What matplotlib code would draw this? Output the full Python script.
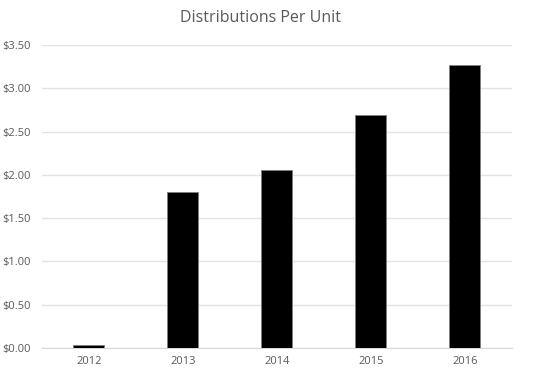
import matplotlib
matplotlib.use("Agg")
from matplotlib import pyplot as plt
from matplotlib.ticker import FuncFormatter

years = ["2012", "2013", "2014", "2015", "2016"]
distributions = [0.03, 1.80, 2.06, 2.69, 3.27]
y_ticks = [0.0, 0.5, 1.0, 1.5, 2.0, 2.5, 3.0, 3.5]

plt.rcParams['font.family'] = ['Open Sans', 'DejaVu Sans']

fig = plt.figure(figsize=(5.44, 3.76), dpi=100)
ax = fig.add_axes([0.077, 0.0745, 0.864, 0.806])

x = range(len(years))
ax.bar(x, distributions, width=0.33, color='black', edgecolor='#7f7f7f', linewidth=0.6, zorder=3)

ax.set_xlim(-0.5, len(years) - 0.5)
ax.set_ylim(0, 3.5)
ax.set_yticks(y_ticks)
ax.yaxis.set_major_formatter(FuncFormatter(lambda v, p: "${:.2f}".format(v)))
ax.set_xticks(list(x))
ax.set_xticklabels(years)

ax.grid(axis='y', color='#e3e3e3', linewidth=1, zorder=0)
for s in ['top', 'right', 'left']:
    ax.spines[s].set_visible(False)
ax.spines['bottom'].set_color('#d9d9d9')
ax.tick_params(axis='both', length=0, colors='#595959', labelsize=8)
ax.tick_params(axis='x', pad=6)
ax.tick_params(axis='y', pad=8)

fig.text(0.479, 0.952, "Distributions Per Unit", ha='center', va='center', fontsize=11.5, color='#595959')

fig.savefig("out.png", dpi=100)
